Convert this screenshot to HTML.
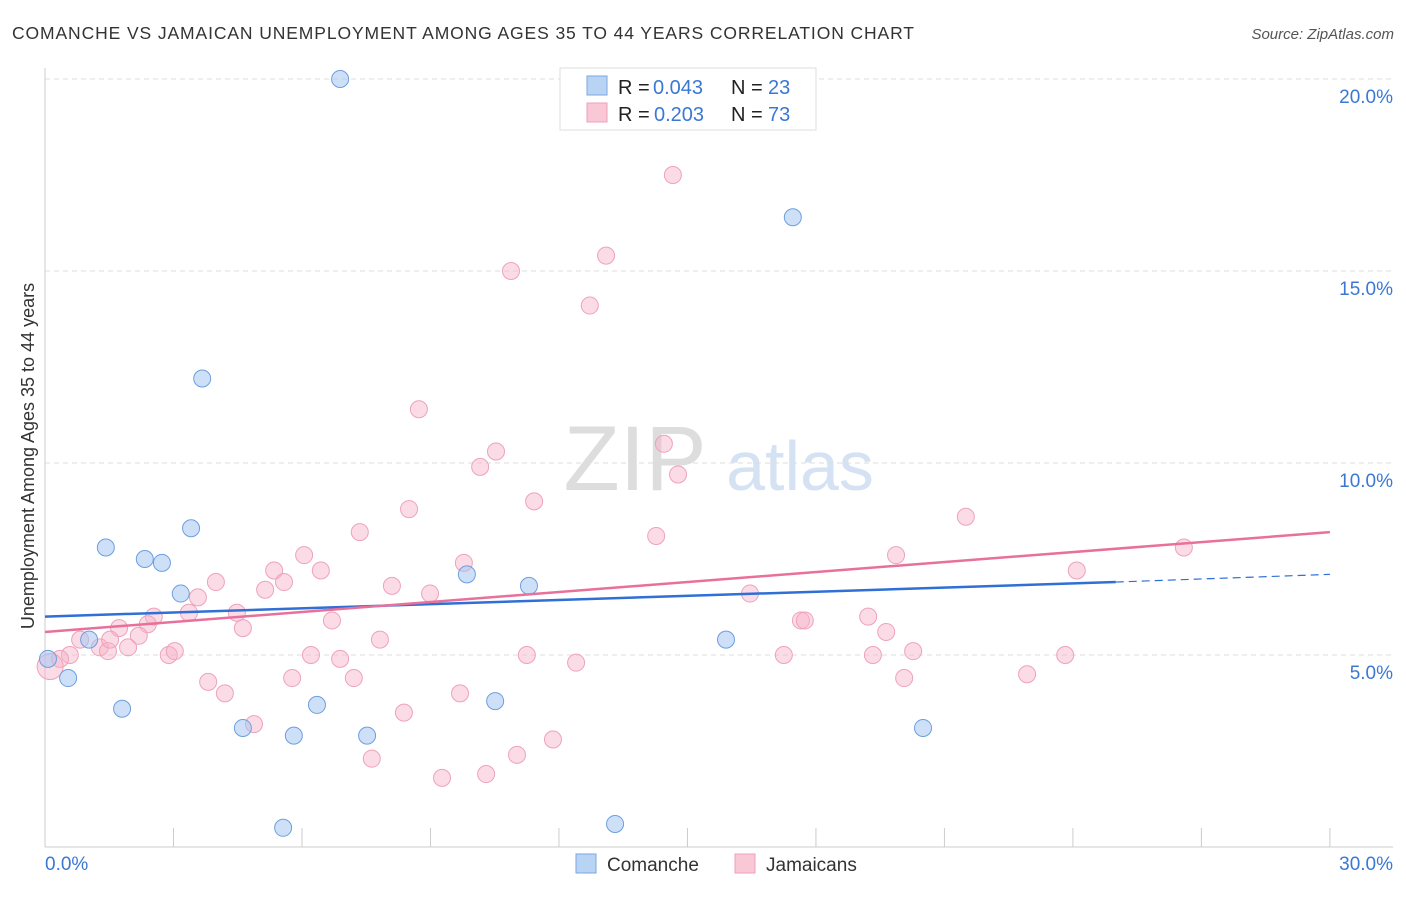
<!DOCTYPE html>
<html><head><meta charset="utf-8"><style>
body{margin:0;background:#fff;font-family:"Liberation Sans",sans-serif;}
svg text{font-family:"Liberation Sans",sans-serif;}
</style></head><body>
<svg id="chart" width="1406" height="892" xmlns="http://www.w3.org/2000/svg">
<text x="12" y="39" font-size="17.5" fill="#333" textLength="902" lengthAdjust="spacing">COMANCHE VS JAMAICAN UNEMPLOYMENT AMONG AGES 35 TO 44 YEARS CORRELATION CHART</text>
<text x="1394" y="39" font-size="15" fill="#555" text-anchor="end" font-style="italic">Source: ZipAtlas.com</text>
<text x="34" y="456" font-size="18" fill="#333" text-anchor="middle" transform="rotate(-90 34 456)">Unemployment Among Ages 35 to 44 years</text>
<g>
<text x="635" y="490" font-size="92" fill="#ddd" text-anchor="middle" font-family="Liberation Serif">ZIP</text>
<text x="800" y="490" font-size="70" fill="#d4e2f4" text-anchor="middle">atlas</text>
</g>
<g id="grid"></g><g id="axes"></g><g id="marks"></g>
<g>
<rect x="560" y="68" width="256" height="62" fill="#fff" stroke="#ddd"/>
<rect x="587" y="76" width="20" height="19" fill="#b9d3f5" stroke="#7aa7e0"/>
<text x="618" y="94" font-size="20" fill="#222">R =</text>
<text x="653" y="94" font-size="20" fill="#3a78d4">0.043</text>
<text x="731" y="94" font-size="20" fill="#222">N =</text>
<text x="768" y="94" font-size="20" fill="#3a78d4">23</text>
<rect x="587" y="103" width="20" height="19" fill="#f9c7d6" stroke="#eda0b8"/>
<text x="618" y="121" font-size="20" fill="#222">R =</text>
<text x="654" y="121" font-size="20" fill="#3a78d4">0.203</text>
<text x="731" y="121" font-size="20" fill="#222">N =</text>
<text x="768" y="121" font-size="20" fill="#3a78d4">73</text>
</g>
<g>
<rect x="576" y="854" width="20" height="19" fill="#b9d3f5" stroke="#7aa7e0"/>
<text x="607" y="871" font-size="19" fill="#333">Comanche</text>
<rect x="735" y="854" width="20" height="19" fill="#f9c7d6" stroke="#eda0b8"/>
<text x="766" y="871" font-size="19" fill="#333">Jamaicans</text>
</g>
</svg>
<script>
const yTicks=[5,10,15,20];
const xTickLabels=["0.0%","30.0%"];
const comancheX=[6.89,17.46,3.67,3.41,1.42,2.33,2.73,3.17,9.85,11.30,1.03,15.90,0.07,0.54,1.80,4.62,5.81,6.35,7.52,10.51,20.50,5.56,13.31];
const comancheY=[20.0,16.4,12.2,8.3,7.8,7.5,7.4,6.6,7.1,6.8,5.4,5.4,4.9,4.4,3.6,3.1,2.9,3.7,2.9,3.8,3.1,0.5,0.6];
const jamX=[14.66,13.10,10.88,12.72,8.73,10.53,14.45,10.16,14.78,11.42,8.50,7.35,14.27,21.50,26.59,19.87,9.78,6.05,5.35,6.44,3.99,5.58,5.14,8.10,8.99,16.46,24.09,3.57,2.54,4.48,3.36,6.70,2.40,1.73,2.19,4.62,17.65,17.74,19.22,19.64,0.82,1.28,1.94,1.47,0.58,0.35,2.89,3.03,6.21,6.89,7.82,11.25,12.40,17.25,19.33,20.27,23.82,5.77,7.21,3.81,4.20,9.69,20.06,22.93,8.38,4.88,11.86,11.02,7.63,10.30,9.27,0.12,1.52];
const jamY=[17.5,15.4,15.0,14.1,11.4,10.3,10.5,9.9,9.7,9.0,8.8,8.2,8.1,8.6,7.8,7.6,7.4,7.6,7.2,7.2,6.9,6.9,6.7,6.8,6.6,6.6,7.2,6.5,6.0,6.1,6.1,5.9,5.8,5.7,5.5,5.7,5.9,5.9,6.0,5.6,5.4,5.2,5.2,5.1,5.0,4.9,5.0,5.1,5.0,4.9,5.4,5.0,4.8,5.0,5.0,5.1,5.0,4.4,4.4,4.3,4.0,4.0,4.4,4.5,3.5,3.2,2.8,2.4,2.3,1.9,1.8,4.7,5.4];
const comancheTrend=[6.0,6.9,7.1];
const jamTrend=[5.6,8.2];
const NS="http://www.w3.org/2000/svg";
const xs=v=>45+v*42.83, ys=v=>847-v*38.4;
function mk(tag,attrs,parent){const e=document.createElementNS(NS,tag);for(const k in attrs)e.setAttribute(k,attrs[k]);parent.appendChild(e);return e;}
const grid=document.getElementById('grid'),axes=document.getElementById('axes'),marks=document.getElementById('marks');
yTicks.forEach(t=>{
 const l=mk('line',{x1:45,x2:1393,y1:ys(t),y2:ys(t),stroke:'#ddd','stroke-dasharray':'5,4'},grid);
 
 
 const tx=mk('text',{x:1393,y:ys(t)+24,'font-size':19,fill:'#3a78d4','text-anchor':'end'},axes);
 tx.textContent=t.toFixed(1)+'%';
 
 
});
const ax=mk('line',{x1:45,x2:1393,y1:847,y2:847,stroke:'#ccc'},axes);


const ay=mk('line',{x1:45,x2:45,y1:68,y2:847,stroke:'#ccc'},axes);


for(let i=1;i<=10;i++){
 const t=mk('line',{x1:xs(i*3),x2:xs(i*3),y1:828,y2:847,stroke:'#ccc'},axes);
 
 
}
[[0,'start',45],[1,'end',1393]].forEach(([i,a,x])=>{
 const t=mk('text',{x:x,y:870,'font-size':19,fill:'#3a78d4','text-anchor':a},axes);
 t.textContent=xTickLabels[i];
 
 
});
jamX.forEach((x,i)=>{
 const c=mk('circle',{cx:xs(x),cy:ys(jamY[i]),r:i==jamX.length-2?13:8.5,fill:'rgba(246,178,200,0.45)',stroke:'#eea2bb','stroke-width':1},marks);
 
 
});
comancheX.forEach((x,i)=>{
 const c=mk('circle',{cx:xs(x),cy:ys(comancheY[i]),r:8.5,fill:'rgba(165,198,242,0.55)',stroke:'#6d9ee0','stroke-width':1},marks);
 
 
});
const bt=mk('line',{x1:xs(0),y1:ys(comancheTrend[0]),x2:xs(25),y2:ys(comancheTrend[1]),stroke:'#2f6fd6','stroke-width':2.5},marks);


const bd=mk('line',{x1:xs(25),y1:ys(comancheTrend[1]),x2:xs(30),y2:ys(comancheTrend[2]),stroke:'#2f6fd6','stroke-width':1.2,'stroke-dasharray':'8,5'},marks);


const pt=mk('line',{x1:xs(0),y1:ys(jamTrend[0]),x2:xs(30),y2:ys(jamTrend[1]),stroke:'#e8709a','stroke-width':2.5},marks);


</script>
</body></html>
